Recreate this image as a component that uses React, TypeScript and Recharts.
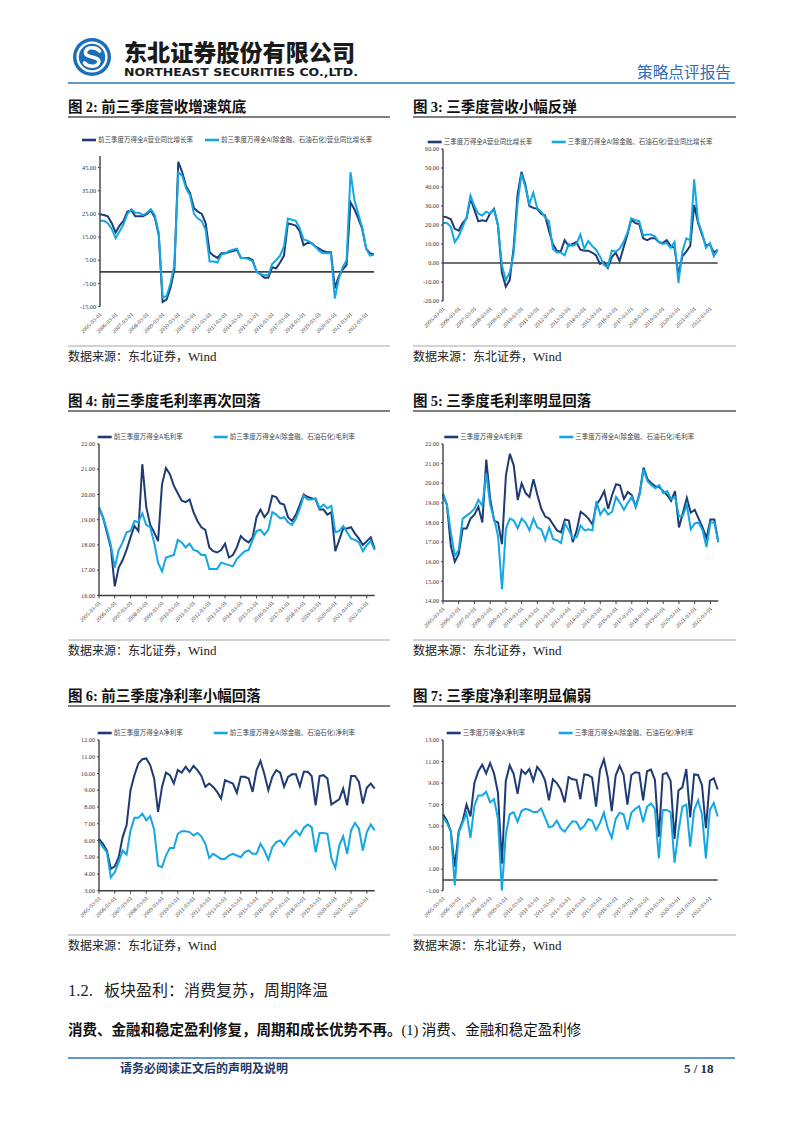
import React from "react";
import { LineChart, Line, XAxis, YAxis, ReferenceLine, Legend } from "recharts";

// ---------- categories (quarter ends, labelled once a year) ----------
const dates = [
  "2005-03-01", "2005-06-01", "2005-09-01", "2005-12-01",
  "2006-03-01", "2006-06-01", "2006-09-01", "2006-12-01",
  "2007-03-01", "2007-06-01", "2007-09-01", "2007-12-01",
  "2008-03-01", "2008-06-01", "2008-09-01", "2008-12-01",
  "2009-03-01", "2009-06-01", "2009-09-01", "2009-12-01",
  "2010-03-01", "2010-06-01", "2010-09-01", "2010-12-01",
  "2011-03-01", "2011-06-01", "2011-09-01", "2011-12-01",
  "2012-03-01", "2012-06-01", "2012-09-01", "2012-12-01",
  "2013-03-01", "2013-06-01", "2013-09-01", "2013-12-01",
  "2014-03-01", "2014-06-01", "2014-09-01", "2014-12-01",
  "2015-03-01", "2015-06-01", "2015-09-01", "2015-12-01",
  "2016-03-01", "2016-06-01", "2016-09-01", "2016-12-01",
  "2017-03-01", "2017-06-01", "2017-09-01", "2017-12-01",
  "2018-03-01", "2018-06-01", "2018-09-01", "2018-12-01",
  "2019-03-01", "2019-06-01", "2019-09-01", "2019-12-01",
  "2020-03-01", "2020-06-01", "2020-09-01", "2020-12-01",
  "2021-03-01", "2021-06-01", "2021-09-01", "2021-12-01",
  "2022-03-01", "2022-06-01", "2022-09-01",
];

// ---------- 图2: 前三季度营收同比增长率 ----------
const rev9mAll = [
  24.9, 24.5, 24, 21, 17, 20, 22, 26, 26.5, 24, 24, 24, 25, 26.5, 23.5, 16,
  -13, -12, -7, 1, 47.5, 43, 37, 34, 27.5, 26, 25, 21, 8.5, 7, 6, 8,
  8, 8.5, 9, 9.5, 6, 6, 6, 5, 0, -1, -2.5, -2.5, 2, 1.5, 4, 7,
  21, 20.5, 20, 17.5, 11.5, 12.5, 12.5, 11, 10, 9, 8.5, 8.5, -7, -2, 1, 3,
  30, 27, 23, 18.5, 10, 8, 7.5,
];
const rev9mEx = [
  22, 22, 21, 18.5, 14.5, 17.5, 20.5, 25, 27, 25.5, 25.5, 24.5, 25.5, 27, 24.5, 17,
  -11, -10.5, -5, 3, 43, 41.5, 36, 33, 25, 23, 22, 18, 4.5, 4.5, 4, 7.5,
  8, 9, 9.5, 10, 6, 6, 5.5, 4.5, 0, -1, -1.5, -1.5, 3.5, 5, 7, 11,
  23, 22.5, 22, 19, 14, 13.5, 12.5, 11, 9, 8, 8, 8, -11.5, -3, 2, 5,
  43, 31, 25, 19, 10, 7, 7.5,
];

// ---------- 图3: 单季度营收同比增长率 ----------
const revQAll = [
  24.5, 24, 23, 18, 17, 21, 23.5, 34, 28, 22, 22.5, 22, 26, 28.5, 20, -5,
  -12.5, -9, 8, 36, 48, 41, 30, 29, 28.5, 26, 25, 17, 10, 6.5, 6, 12,
  9, 10, 11, 7, 6.5, 6.5, 5.5, 4, -0.5, 0.5, -2.5, 3, 5.5, 1, 8, 15,
  23, 21, 20.5, 13, 12, 13, 13, 11, 10.5, 12, 9, 8, -6, 3.5, 6, 9,
  30.5, 21, 15, 9, 10, 5.5, 7,
];
const revQEx = [
  21, 21, 19, 11, 14, 19, 24, 35.5, 30, 26, 25, 27, 26, 28, 20, -1,
  -9, -5, 5, 31, 47, 40, 31, 37, 29, 27, 24, 22, 7.5, 5.5, 5.5, 4,
  10, 9, 10, 15, 7.5, 11.5, 9, 7, 3.5, -1, -2, 6.5, 6, 7.5, 11, 16,
  23.5, 22.5, 22, 14.5, 15, 15, 14, 11, 10, 10.5, 8, 11, -10.5, 6, 13, 12,
  44, 22, 16, 8, 10.5, 3.5, 7,
];

// ---------- 图4: 前三季度毛利率 ----------
const gm9mAll = [
  19.46, 19.1, 18.5, 17.9, 16.36, 17.1, 17.4, 17.8, 18.3, 18.75, 18.55, 21.2, 19.5, 18.8, 18.5, 18.15,
  20.4, 21.05, 20.8, 20.35, 20.05, 19.75, 19.7, 19.8, 19.3, 18.95, 18.7, 18.6, 17.9, 17.75, 17.7, 17.8,
  18.05, 17.5, 17.6, 17.9, 18.35, 18.2, 18.1, 18.3, 19.1, 19.4, 19.1, 19.3, 19.95, 19.9, 19.65, 19.6,
  19.1, 18.95, 19.2, 19.6, 20.0, 19.9, 19.85, 19.8, 19.4, 19.4, 19.2, 19.3, 17.75, 18.2, 18.65, 18.65,
  18.7, 18.45, 18.25, 18.0, 18.15, 18.3, 17.85,
];
const gm9mEx = [
  19.5, 19.1, 18.6, 18.0, 17.1, 17.8, 18.1, 18.5, 18.55, 18.95, 18.9, 19.25, 18.8, 18.7, 18.1, 17.3,
  16.95, 17.5, 17.55, 17.6, 18.2, 18.1, 17.9, 18.05, 17.8, 17.75, 17.6, 17.6, 17.05, 17.05, 17.05, 17.3,
  17.25, 17.2, 17.15, 17.45, 17.6, 17.75, 17.8, 18.2, 18.55, 18.6, 18.4, 18.6, 19.3, 19.2, 19.05, 19.1,
  18.9, 18.8, 19.05, 19.45, 19.95, 19.8, 19.8, 19.85, 19.45, 19.6, 19.45, 19.55, 18.5, 18.55, 18.75, 18.5,
  18.25, 18.2, 18.1, 17.75, 18.0, 18.15, 17.8,
];

// ---------- 图5: 单季度毛利率 ----------
const gmQAll = [
  19.4, 18.9, 16.8, 16.0, 16.4, 17.7, 17.7, 18.2, 18.4, 18.8, 18.0, 21.2, 19.2, 18.1, 18.0, 16.9,
  20.4, 21.5, 20.9, 19.15, 20.0, 19.5, 19.3, 20.2, 19.4, 18.7, 18.3, 18.2, 17.9, 17.6, 17.5, 18.15,
  18.1, 17.0, 17.6, 18.55, 18.4, 18.2, 17.9, 18.9, 19.2, 19.6, 18.7, 19.4, 19.95, 19.9, 19.2, 19.55,
  19.4, 18.8, 19.5, 20.8, 20.2, 20.0, 19.85, 19.8, 19.6, 19.4, 19.1, 19.6, 17.75, 18.5, 19.25, 18.5,
  18.65, 18.2, 17.75, 17.2, 18.15, 18.15, 17.0,
];
const gmQEx = [
  19.5, 18.9, 17.5, 16.3, 16.6, 18.2, 18.35, 18.5, 18.7, 19.15, 18.85, 20.5, 18.9, 18.2, 17.3, 14.6,
  17.7, 18.2, 18.1, 17.7, 18.2, 18.0, 17.6, 18.2, 17.75, 17.65, 17.1, 17.75, 17.15, 17.1, 16.95, 17.95,
  17.6, 17.2, 17.25, 17.85, 17.6, 17.65, 17.6, 19.1, 18.4, 18.7, 18.4, 18.55, 19.3, 19.0, 18.65, 19.0,
  19.3, 18.8, 19.4, 20.7, 20.1, 19.9, 19.75, 19.9, 19.5, 19.6, 19.2, 19.3, 18.3, 18.35, 18.9, 17.65,
  17.95, 18.0, 17.6, 16.75, 18.0, 18.0, 17.0,
];

// ---------- 图6: 前三季度净利率 ----------
const nm9mAll = [
  6.1, 5.8, 5.4, 4.3, 4.45, 5.0, 6.2, 6.9, 9.0, 9.9, 10.6, 10.85, 10.9, 10.5, 9.7, 7.7,
  9.2, 10.05, 9.9, 9.4, 10.2, 10.05, 10.4, 10.1, 10.45, 10.2, 9.85, 9.2, 9.4, 9.2, 8.9, 8.5,
  9.6, 9.5, 9.4, 8.85, 9.8, 9.8, 9.7, 8.9, 10.2, 10.75, 9.95, 9.0, 9.8, 10.2, 10.05, 9.2,
  9.8, 9.95, 9.95, 9.25, 10.1, 10.1, 9.85, 8.1, 9.85, 9.9, 9.7, 8.15, 8.3, 8.45, 9.1, 8.1,
  9.85, 9.85, 9.5, 8.2, 9.15, 9.4, 9.1,
];
const nm9mEx = [
  5.95, 5.6, 5.3, 3.8, 4.1, 4.7, 5.4, 5.15, 6.6, 7.35, 7.35, 7.6, 7.2, 7.45, 6.65, 4.5,
  4.4, 5.1, 5.55, 5.55, 6.4, 6.55, 6.55, 6.5, 6.3, 6.45, 6.25, 5.8, 4.95, 5.2, 5.05, 4.9,
  4.9, 5.1, 5.2, 5.1, 5.0, 5.3, 5.4, 5.2, 5.2, 5.8, 5.4, 4.85, 5.6, 5.9, 6.0, 5.7,
  6.1, 6.35, 6.6, 6.3, 6.75, 6.95, 6.8, 5.3, 6.45, 6.45, 6.4, 4.95, 4.35, 5.7, 6.25, 5.2,
  6.6, 7.05, 6.7, 5.4, 6.5, 6.95, 6.6,
];

// ---------- 图7: 单季度净利率 ----------
const nmQAll = [
  6.1, 5.5, 4.5, 1.2, 4.5, 5.5, 7.0, 5.9, 9.0, 10.1, 10.7, 9.9, 10.85, 9.9, 8.1, 1.5,
  9.2, 10.65, 9.85, 8.0, 10.2, 9.85, 10.3, 9.2, 10.5, 10.05, 9.25, 7.4, 9.35, 9.0, 8.4, 7.2,
  9.55, 9.35, 9.3, 7.5, 9.8, 9.75, 9.5, 6.8, 10.2, 11.2, 9.5, 6.4, 9.7, 10.6, 9.8, 7.0,
  9.75, 10.0, 9.95, 7.4, 10.1, 10.25, 9.3, 4.0, 9.8, 9.95, 9.2, 3.8, 8.3, 8.6, 10.3, 5.8,
  9.8, 9.75, 8.8, 4.8, 9.2, 9.45, 8.4,
];
const nmQEx = [
  5.85, 5.3, 4.5, -0.5, 4.4, 5.3, 6.2, 3.9, 6.9, 7.85, 7.85, 8.2, 7.2, 7.5, 5.7, -1.0,
  4.2, 6.1, 6.3, 5.4, 6.4, 6.6, 6.5, 6.3, 6.3, 6.65, 5.8, 4.9, 5.0, 5.5, 4.8, 4.5,
  5.0, 5.45, 5.4, 4.7, 5.0, 5.65, 5.5, 4.65, 5.3, 6.25, 4.8, 3.9, 5.65, 6.25, 6.1, 4.65,
  6.25, 6.6, 6.85, 5.35, 6.8, 7.1, 6.6, 2.0, 6.5, 6.5, 6.3, 1.6, 4.5, 6.8, 7.0, 3.1,
  6.5, 7.4, 6.1, 2.0, 6.5, 7.15, 5.9,
];

// ---------- axis ticks ----------
const ticksRev9m = [-15, -5, 5, 15, 25, 35, 45];
const ticksRevQ = [-20, -10, 0, 10, 20, 30, 40, 50, 60];
const ticksGm9m = [16, 17, 18, 19, 20, 21, 22];
const ticksGmQ = [14, 15, 16, 17, 18, 19, 20, 21, 22];
const ticksNm9m = [3, 4, 5, 6, 7, 8, 9, 10, 11, 12];
const ticksNmQ = [-1, 1, 3, 5, 7, 9, 11, 13];

const DARK = "#1F3B73";
const LIGHT = "#13A7E3";
const AXIS = "#404040";
const SERIF = "'Liberation Serif', 'Times New Roman', serif";
const CJK = "'Noto Sans CJK SC', 'Noto Sans', sans-serif";

const XTick = (props: any) => {
  const { x, y, payload } = props;
  return (
    <text
      x={x}
      y={y}
      transform={`rotate(-45 ${x} ${y})`}
      textAnchor="end"
      fontSize={5.8}
      fontFamily={SERIF}
      fill="#404040"
      dy={3}
    >
      {payload.value}
    </text>
  );
};

type PanelProps = {
  all: number[];
  ex: number[];
  nameA: string;
  nameB: string;
  plotLeft: number;
  plotRight: number;
  plotTop: number;
  plotBottom: number;
  domain: [number, number];
  ticks: number[];
  zero: boolean;
  legendY: number;
  legendXs: number[];
};

function Panel(p: PanelProps) {
  const TOP = 25;
  const LEFTW = 45;
  const RIGHT = 8;
  const BOTTOM = 45;
  const boxLeft = p.plotLeft - LEFTW;
  const boxTop = p.plotTop - TOP;
  const width = p.plotRight - boxLeft + RIGHT;
  const height = p.plotBottom - p.plotTop + TOP + BOTTOM;
  const data = dates.map((d, i) => ({ d, a: p.all[i], b: p.ex[i] }));
  const keys = ["a", "b"];
  const names = [p.nameA, p.nameB];
  const colors = [DARK, LIGHT];

  const renderLegend = (lp: any) => {
    const payload: any[] = (lp && lp.payload) || [];
    return (
      <svg width={width} height={12} style={{ display: "block", overflow: "visible" }}>
        {keys.map((k, i) => {
          const entry = payload.find((e: any) => e && e.dataKey === k);
          const color = (entry && entry.color) || colors[i];
          const label = (entry && entry.value) || names[i];
          const x0 = p.legendXs[i] - boxLeft;
          return (
            <g key={k}>
              <line x1={x0} x2={x0 + 14} y1={6} y2={6} stroke={color} strokeWidth={2.6} />
              <text x={x0 + 16} y={8.3} fontSize={6.5} fontFamily={CJK} fill="#444">
                {label}
              </text>
            </g>
          );
        })}
      </svg>
    );
  };

  return (
    <div style={{ position: "absolute", left: boxLeft, top: boxTop, width, height }}>
      <LineChart
        width={width}
        height={height}
        data={data}
        margin={{ top: TOP, right: RIGHT, bottom: 0, left: 0 }}
      >
        <XAxis
          dataKey="d"
          height={BOTTOM}
          interval={3}
          tick={<XTick />}
          tickSize={3}
          tickMargin={3}
          axisLine={p.zero ? false : { stroke: AXIS, strokeWidth: 1.5 }}
          tickLine={p.zero ? false : { stroke: AXIS, strokeWidth: 1 }}
        />
        <YAxis
          width={LEFTW}
          type="number"
          domain={p.domain}
          ticks={p.ticks}
          allowDataOverflow
          tickFormatter={(v: number) => v.toFixed(2)}
          tick={{ fontSize: 6.2, fontFamily: SERIF, fill: "#333" }}
          tickSize={2}
          tickMargin={2}
          axisLine={{ stroke: AXIS, strokeWidth: 1.4 }}
          tickLine={{ stroke: AXIS, strokeWidth: 1 }}
        />
        {p.zero && <ReferenceLine y={0} stroke={AXIS} strokeWidth={1.6} />}
        <Legend
          layout="horizontal"
          verticalAlign="middle"
          align="center"
          wrapperStyle={{ left: 0, top: p.legendY - boxTop - 6, width, height: 12, lineHeight: 0 }}
          content={renderLegend}
        />
        <Line
          type="linear"
          dataKey="a"
          name={p.nameA}
          stroke={DARK}
          strokeWidth={2}
          dot={false}
          isAnimationActive={false}
        />
        <Line
          type="linear"
          dataKey="b"
          name={p.nameB}
          stroke={LIGHT}
          strokeWidth={2}
          dot={false}
          isAnimationActive={false}
        />
      </LineChart>
    </div>
  );
}

function Decor() {
  const titles = [
    { x: 68, y: 112, n: "2", t: "前三季度营收增速筑底" },
    { x: 413, y: 112, n: "3", t: "三季度营收小幅反弹" },
    { x: 68, y: 406, n: "4", t: "前三季度毛利率再次回落" },
    { x: 413, y: 406, n: "5", t: "三季度毛利率明显回落" },
    { x: 68, y: 701, n: "6", t: "前三季度净利率小幅回落" },
    { x: 413, y: 701, n: "7", t: "三季度净利率明显偏弱" },
  ];
  const rows = [
    { under: 117, src: 346, srcText: 361 },
    { under: 411, src: 640, srcText: 655 },
    { under: 706, src: 935, srcText: 950 },
  ];
  const cols = [
    [68, 390],
    [413, 736],
  ];
  return (
    <svg
      width={802}
      height={1133}
      style={{ position: "absolute", left: 0, top: 0 }}
    >
      <rect x={0} y={0} width={802} height={1133} fill="#fff" />
      {/* logo */}
      <circle cx={92} cy={57} r={19} fill="#1B6FBA" />
      <circle cx={92} cy={57} r={15.6} fill="#fff" />
      <circle cx={92} cy={57} r={13.2} fill="#1B6FBA" />
      <path
        d="M 99.5 51 C 96 46.5, 86 46.5, 85.5 52.5 C 85 58, 99 56, 98.8 61.5 C 98.5 67.5, 88.5 67.5, 84.5 63"
        fill="none"
        stroke="#fff"
        strokeWidth={3.6}
        strokeLinecap="round"
      />
      <text
        x={124}
        y={61}
        fontSize={22.5}
        fontWeight={900}
        fontFamily={CJK}
        fill="#1a1a1a"
        textLength={231}
        lengthAdjust="spacingAndGlyphs"
      >
        东北证券股份有限公司
      </text>
      <text
        x={124}
        y={76}
        fontSize={11}
        fontWeight={700}
        fontFamily="'DejaVu Sans', sans-serif"
        fill="#1a1a1a"
        textLength={234}
        lengthAdjust="spacingAndGlyphs"
      >
        NORTHEAST SECURITIES CO.,LTD.
      </text>
      <text
        x={637}
        y={78}
        fontSize={15.5}
        fontFamily={CJK}
        fill="#2B6CB5"
        textLength={94}
        lengthAdjust="spacingAndGlyphs"
      >
        策略点评报告
      </text>
      <line x1={68} x2={735} y1={83} y2={83} stroke="#2E75B6" strokeWidth={1.6} />

      {titles.map((t, i) => (
        <text key={i} x={t.x} y={t.y} fontSize={14.5} fontWeight={700} fontFamily={CJK} fill="#111">
          图 <tspan fontFamily={SERIF}>{t.n}:</tspan> {t.t}
        </text>
      ))}
      {rows.map((r, i) => (
        <g key={i}>
          {cols.map((c, j) => (
            <g key={j}>
              <line x1={c[0]} x2={c[1]} y1={r.under} y2={r.under} stroke="#7F7F7F" strokeWidth={2} />
              <line x1={c[0]} x2={c[1]} y1={r.src} y2={r.src} stroke="#A6A6A6" strokeWidth={1.2} />
              <text x={c[0]} y={r.srcText} fontSize={12} fontFamily={CJK} fill="#222">
                数据来源：东北证券，<tspan fontFamily={SERIF} fontSize={13}>Wind</tspan>
              </text>
            </g>
          ))}
        </g>
      ))}

      <text x={68} y={996} fontSize={16} fontFamily={CJK} fill="#222">
        <tspan fontFamily={SERIF} fontSize={16.5}>1.2.</tspan>
        <tspan x={104}>板块盈利：消费复苏，周期降温</tspan>
      </text>
      <text x={68} y={1035} fontSize={14.5} fontFamily={CJK} fill="#111">
        <tspan fontWeight={700}>消费、金融和稳定盈利修复，周期和成长优势不再。</tspan>
        <tspan fontFamily={SERIF}>(1)</tspan>
        <tspan> 消费、金融和稳定盈利修</tspan>
      </text>

      <line x1={68} x2={735} y1={1058} y2={1058} stroke="#2E75B6" strokeWidth={1.4} />
      <text x={120} y={1073} fontSize={12} fontWeight={700} fontFamily={CJK} fill="#1F3864">
        请务必阅读正文后的声明及说明
      </text>
      <text x={684} y={1073} fontSize={13} fontWeight={700} fontFamily={SERIF} fill="#1F2A44">
        5 / 18
      </text>
    </svg>
  );
}

export default function App() {
  return (
    <div
      style={{
        position: "absolute",
        left: 0,
        top: 0,
        width: 802,
        height: 1133,
        background: "#fff",
        overflow: "hidden",
      }}
    >
      <Decor />
      <Panel
        all={rev9mAll}
        ex={rev9mEx}
        nameA="前三季度万得全A营业同比增长率"
        nameB="前三季度万得全A(除金融、石油石化)营业同比增长率"
        plotLeft={100}
        plotRight={374}
        plotTop={155.7}
        plotBottom={306.3}
        domain={[-15, 50]}
        ticks={ticksRev9m}
        zero
        legendY={140}
        legendXs={[82, 205]}
      />
      <Panel
        all={revQAll}
        ex={revQEx}
        nameA="三季度万得全A营业同比增长率"
        nameB="三季度万得全A(除金融、石油石化)营业同比增长率"
        plotLeft={443.3}
        plotRight={718}
        plotTop={149.3}
        plotBottom={301.3}
        domain={[-20, 60]}
        ticks={ticksRevQ}
        zero
        legendY={142}
        legendXs={[428, 552]}
      />
      <Panel
        all={gm9mAll}
        ex={gm9mEx}
        nameA="前三季度万得全A毛利率"
        nameB="前三季度万得全A(除金融、石油石化)毛利率"
        plotLeft={99.3}
        plotRight={375}
        plotTop={444.3}
        plotBottom={595.7}
        domain={[16, 22]}
        ticks={ticksGm9m}
        zero={false}
        legendY={437}
        legendXs={[98, 214]}
      />
      <Panel
        all={gmQAll}
        ex={gmQEx}
        nameA="三季度万得全A毛利率"
        nameB="三季度万得全A(除金融、石油石化)毛利率"
        plotLeft={442.7}
        plotRight={718}
        plotTop={444.3}
        plotBottom={601.3}
        domain={[14, 22]}
        ticks={ticksGmQ}
        zero={false}
        legendY={437}
        legendXs={[444, 559]}
      />
      <Panel
        all={nm9mAll}
        ex={nm9mEx}
        nameA="前三季度万得全A净利率"
        nameB="前三季度万得全A(除金融、石油石化)净利率"
        plotLeft={99.3}
        plotRight={375}
        plotTop={740}
        plotBottom={890.7}
        domain={[3, 12]}
        ticks={ticksNm9m}
        zero={false}
        legendY={733}
        legendXs={[98, 214]}
      />
      <Panel
        all={nmQAll}
        ex={nmQEx}
        nameA="三季度万得全A净利率"
        nameB="三季度万得全A(除金融、石油石化)净利率"
        plotLeft={443.3}
        plotRight={718}
        plotTop={740}
        plotBottom={890.7}
        domain={[-1, 13]}
        ticks={ticksNmQ}
        zero
        legendY={733}
        legendXs={[447, 559]}
      />
    </div>
  );
}
